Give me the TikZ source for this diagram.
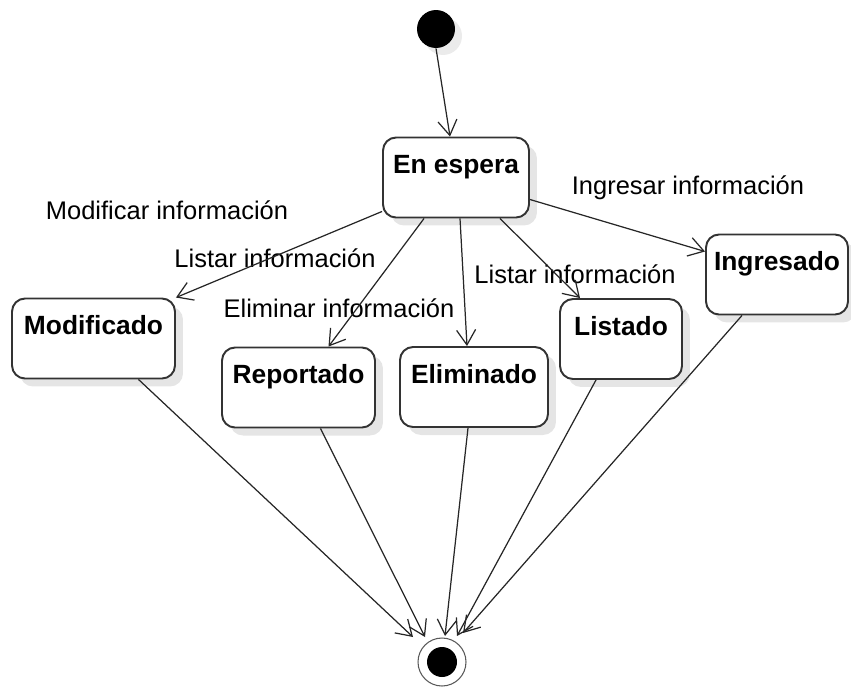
\documentclass[tikz,border=0pt]{standalone}
\usepackage{fontspec}
\setmainfont{Liberation Sans}
\usetikzlibrary{calc, arrows.meta, shadows}

\tikzset{
    estado/.style={draw=black!80, line width=1.1pt, rounded corners=0.26cm, fill=white,
        inner sep=0pt, text height=0.72cm, text depth=0.88cm,
        font=\fontsize{15}{18}\selectfont\bfseries,
        drop shadow={fill=black, opacity=0.1, shadow xshift=0.16cm, shadow yshift=-0.16cm}},
    trans/.style={draw=black!85, line width=0.7pt, -{Straight Barb[length=0.3cm, width=0.38cm]}},
    etiq/.style={font=\fontsize{14.5}{17}\selectfont, inner sep=0pt}
}

\begin{document}
\begin{tikzpicture}[x=0.02cm, y=-0.02cm]
            \useasboundingbox (0,0) rectangle (851,690);
            % inicio y fin
            \node[circle, fill=black, minimum size=0.76cm, inner sep=0pt,
                drop shadow={fill=black, opacity=0.08, shadow xshift=0.14cm, shadow yshift=-0.14cm}] (ini) at (436,29) {};
            \node[circle, draw=black!65, line width=0.6pt, fill=white, minimum size=0.96cm, inner sep=0pt] (fin) at (442,662) {};
            \node[circle, fill=black, minimum size=0.6cm, inner sep=0pt] (finc) at (fin) {};
            % estados
            \node[estado, minimum width=2.92cm] (espera) at (456,177.5) {En espera};
            \node[estado, minimum width=3.26cm] (modif) at (93.5,338.5) {Modificado};
            \node[estado, minimum width=3.06cm] (report) at (298.5,387.5) {Reportado};
            \node[estado, minimum width=2.96cm] (elim) at (474,387) {Eliminado};
            \node[estado, minimum width=2.44cm] (listado) at (621,339) {Listado};
            \node[estado, minimum width=2.84cm] (ingres) at (777,274.5) {Ingresado};
            % etiquetas
            \node[etiq] (lblmod) at (167,210) {Modificar información};
            \node[etiq] (lbllis) at (275,258) {Listar información};
            \node[etiq] (lblelim) at (339,308) {Eliminar información};
            \node[etiq] (lbllis2) at (575,274) {Listar información};
            \node[etiq] (lbling) at (688,188) {Ingresar información};
            % transiciones
            \draw[trans] (ini.south) -- ($(espera.north)+(-6,0)$);
            \draw[trans] ($(espera.south west)+(0,-7)$) -- (modif.north east);
            \draw[trans] ($(espera.south west)+(42,0)$) -- ($(report.north)+(30,0)$);
            \draw[trans] ($(espera.south)+(4,0)$) -- ($(elim.north)+(-7,0)$);
            \draw[trans] ($(espera.south)+(44,0)$) -- ($(listado.north)+(-41,0)$);
            \draw[trans] ($(espera.east)+(0,22)$) -- ($(ingres.west)+(0,-23)$);
            \draw[trans] ($(modif.south)+(45,0)$) -- ($(fin.center)+(-29,-25)$);
            \draw[trans] ($(report.south)+(22,0)$) -- ($(fin.center)+(-17,-25)$);
            \draw[trans] ($(elim.south)+(-6,0)$) -- ($(fin.center)+(3,-26)$);
            \draw[trans] ($(listado.south)+(-25,0)$) -- ($(fin.center)+(15,-26)$);
            \draw[trans] ($(ingres.south)+(-35,0)$) -- ($(fin.center)+(21,-29)$);
        \end{tikzpicture}
\end{document}
